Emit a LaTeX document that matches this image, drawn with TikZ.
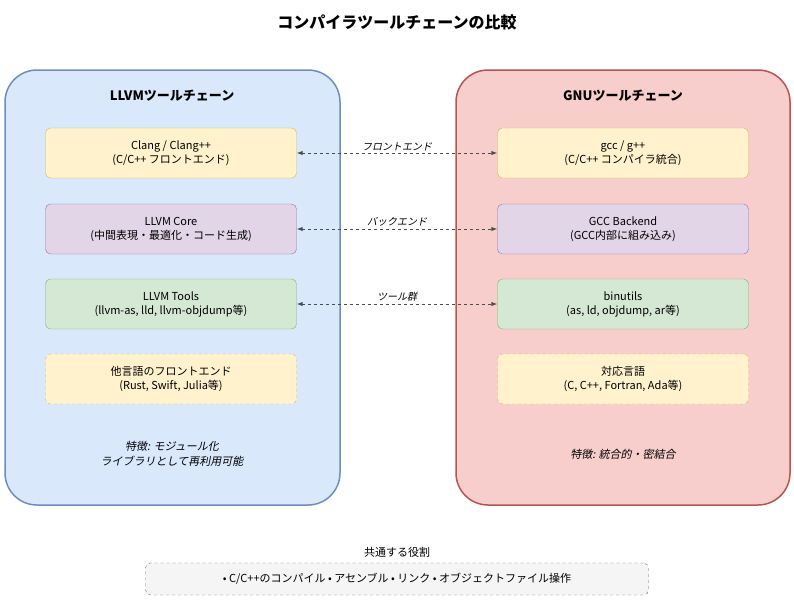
\documentclass[tikz,border=0pt]{standalone}
\usepackage{fontspec}
\setmainfont{Noto Sans CJK JP}
\newfontfamily\slfont{Noto Sans CJK JP}[FakeSlant=0.2]
\usetikzlibrary{arrows.meta}
\definecolor{bluef}{HTML}{DAE8FC}\definecolor{blues}{HTML}{6C8EBF}
\definecolor{redf}{HTML}{F8CECC}\definecolor{reds}{HTML}{B85450}
\definecolor{yelf}{HTML}{FFF2CC}\definecolor{yels}{HTML}{D6B656}
\definecolor{purf}{HTML}{E1D5E7}\definecolor{purs}{HTML}{9673A6}
\definecolor{grnf}{HTML}{D5E8D4}\definecolor{grns}{HTML}{82B366}
\definecolor{grayf}{HTML}{F5F5F5}\definecolor{grays}{HTML}{666666}
\begin{document}
\begin{tikzpicture}[x=1pt,y=-1pt,
  cont/.style={draw, line width=1.5pt, rounded corners=32pt},
  box/.style={draw, rounded corners=5pt, minimum width=251pt, minimum height=50pt, align=center, font=\fontsize{11}{14}\selectfont, inner sep=0pt},
  yb/.style={box, fill=yelf, draw=yels},
  pb/.style={box, fill=purf, draw=purs},
  gb/.style={box, fill=grnf, draw=grns},
  db/.style={yb, dashed},
  conn/.style={dashed, draw=black!70, line width=1pt, {Latex[length=6pt]}-{Latex[length=6pt]}},
  lab/.style={font=\slfont\fontsize{10}{12}\selectfont, above, inner sep=2pt}]
\useasboundingbox (0,0) rectangle (794,600);
\node[font=\bfseries\fontsize{16}{18}\selectfont] (title) at (397,22) {コンパイラツールチェーンの比較};
\draw[cont, fill=bluef, draw=blues] (5,70) rectangle (340,505);
\draw[cont, fill=redf, draw=reds] (456,70) rectangle (790,505);
\node[font=\bfseries\fontsize{13}{15}\selectfont] (lt) at (172,96) {LLVMツールチェーン};
\node[font=\bfseries\fontsize{13}{15}\selectfont] (rt) at (623,96) {GNUツールチェーン};
\node[yb] (l1) at (171,153) {Clang / Clang++\\(C/C++ フロントエンド)};
\node[pb] (l2) at (171,229) {LLVM Core\\(中間表現・最適化・コード生成)};
\node[gb] (l3) at (171,304) {LLVM Tools\\(llvm-as, lld, llvm-objdump等)};
\node[db] (l4) at (171,379) {他言語のフロントエンド\\(Rust, Swift, Julia等)};
\node[yb] (r1) at (623,153) {gcc / g++\\(C/C++ コンパイラ統合)};
\node[pb] (r2) at (623,229) {GCC Backend\\(GCC内部に組み込み)};
\node[gb] (r3) at (623,304) {binutils\\(as, ld, objdump, ar等)};
\node[db] (r4) at (623,379) {対応言語\\(C, C++, Fortran, Ada等)};
\draw[conn] (l1) -- node[lab]{フロントエンド} (r1);
\draw[conn] (l2) -- node[lab]{バックエンド} (r2);
\draw[conn] (l3) -- node[lab]{ツール群} (r3);
\node[font=\slfont\fontsize{11}{15}\selectfont, align=center] (lf) at (172,454) {特徴: モジュール化\\ライブラリとして再利用可能};
\node[font=\slfont\fontsize{11}{15}\selectfont] (rf) at (623,454) {特徴: 統合的・密結合};
\node[font=\fontsize{11}{13}\selectfont] (ct) at (397,552) {共通する役割};
\node[draw=grays, fill=grayf, dashed, rounded corners=5pt, minimum width=503pt, minimum height=32pt, font=\fontsize{11}{13}\selectfont] (cb) at (397,579) {• C/C++のコンパイル • アセンブル • リンク • オブジェクトファイル操作};
\end{tikzpicture}
\end{document}
